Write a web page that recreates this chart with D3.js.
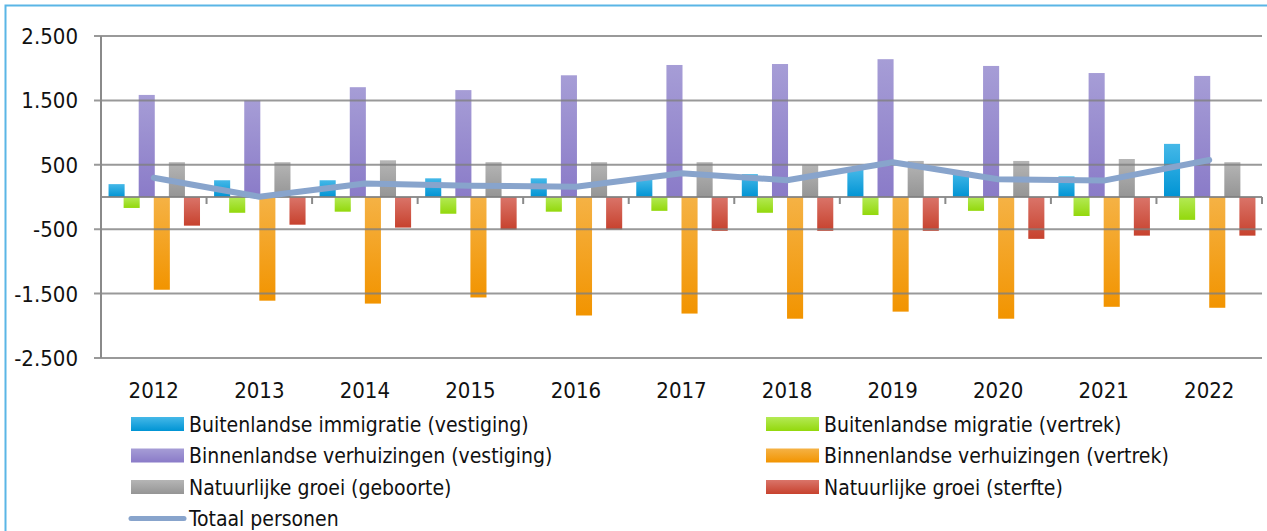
<!DOCTYPE html>
<html>
<head>
<meta charset="utf-8">
<script src="https://cdn.jsdelivr.net/npm/d3@7"></script>
<style>
  body { margin: 0; background: #fff; }
  svg text { font-family: "Liberation Sans Narrow", "DejaVu Sans Condensed", "Roboto Condensed", sans-serif; fill: #111; }
</style>
</head>
<body>
<script>
// data
var years = ["2012","2013","2014","2015","2016","2017","2018","2019","2020","2021","2022"];
var immigratieVestiging = [200, 260, 260, 290, 290, 280, 355, 430, 400, 320, 825];
var migratieVertrek = [-170, -245, -228, -260, -228, -215, -245, -280, -215, -295, -355];
var verhuizingVestiging = [1585, 1500, 1705, 1660, 1890, 2050, 2065, 2140, 2035, 1925, 1880];
var verhuizingVertrek = [-1440, -1610, -1655, -1560, -1840, -1810, -1890, -1780, -1890, -1705, -1720];
var geboorte = [540, 540, 570, 540, 540, 540, 495, 560, 560, 590, 540];
var sterfte = [-445, -430, -475, -505, -505, -525, -525, -525, -650, -600, -600];
var totaal = [300, 5, 210, 175, 160, 370, 260, 540, 275, 255, 575];
var yTicks = [-2500, -1500, -500, 500, 1500, 2500];

var series = [
  {key: "Buitenlandse immigratie (vestiging)", values: immigratieVestiging, c0: "#45b8e8", c1: "#0094d4"},
  {key: "Buitenlandse migratie (vertrek)", values: migratieVertrek, c0: "#b4ea55", c1: "#93d80c"},
  {key: "Binnenlandse verhuizingen (vestiging)", values: verhuizingVestiging, c0: "#a69dd6", c1: "#8a7bc8"},
  {key: "Binnenlandse verhuizingen (vertrek)", values: verhuizingVertrek, c0: "#f5b245", c1: "#f29400"},
  {key: "Natuurlijke groei (geboorte)", values: geboorte, c0: "#b5b5b5", c1: "#959595"},
  {key: "Natuurlijke groei (sterfte)", values: sterfte, c0: "#da7469", c1: "#c7422e"}
];

var width = 1267, height = 531;
var margin = {top: 36, right: 5, bottom: 173, left: 101};

var nl = d3.formatLocale({decimal: ",", thousands: ".", grouping: [3], currency: ["", ""], minus: "-"});
var fmt = nl.format(",");

var x = d3.scaleBand()
    .domain(years)
    .range([margin.left, width - margin.right]);

var xs = d3.scaleBand()
    .domain(series.map(d => d.key))
    .range([0, x.bandwidth()])
    .paddingInner(0)
    .paddingOuter(0.5);

var y = d3.scaleLinear()
    .domain([-2500, 2500])
    .range([height - margin.bottom, margin.top]);

const svg = d3.select("body").append("svg")
    .attr("width", width)
    .attr("height", height);

// gradients
var defs = svg.append("defs");
series.forEach((s, i) => {
  var g = defs.append("linearGradient")
      .attr("id", "grad" + i)
      .attr("x1", 0).attr("y1", 0).attr("x2", 0).attr("y2", 1);
  g.append("stop").attr("offset", "0%").attr("stop-color", s.c0);
  g.append("stop").attr("offset", "100%").attr("stop-color", s.c1);
});

// frame (only left and top visible)
svg.append("path")
    .attr("d", `M5.5,${height + 5}V5.5H${width + 5}`)
    .attr("fill", "none")
    .attr("stroke", "#5ab6e6")
    .attr("stroke-width", 2);

// bars
series.forEach((s, i) => {
  svg.append("g")
      .attr("fill", `url(#grad${i})`)
    .selectAll("rect")
    .data(s.values)
    .enter().append("rect")
      .attr("x", (d, j) => x(years[j]) + xs(s.key))
      .attr("y", d => y(Math.max(0, d)))
      .attr("width", xs.bandwidth() + 1)
      .attr("height", d => Math.abs(y(d) - y(0)));
});

// gridlines (drawn over bars, slightly see-through like the original)
svg.append("g")
    .selectAll("line")
    .data(yTicks)
    .enter().append("line")
      .attr("x1", margin.left - 7)
      .attr("x2", width - margin.right)
      .attr("y1", d => y(d))
      .attr("y2", d => y(d))
      .attr("stroke", "#7f7f7f")
      .attr("stroke-opacity", 0.8)
      .attr("stroke-width", 2);

// zero line with category ticks
svg.append("line")
    .attr("x1", margin.left)
    .attr("x2", width - margin.right)
    .attr("y1", y(0))
    .attr("y2", y(0))
    .attr("stroke", "#7f7f7f")
    .attr("stroke-opacity", 0.85)
    .attr("stroke-width", 2);

svg.append("g")
    .selectAll("line")
    .data(years)
    .enter().append("line")
      .attr("x1", d => x(d) + x.bandwidth())
      .attr("x2", d => x(d) + x.bandwidth())
      .attr("y1", y(0))
      .attr("y2", y(0) + 7)
      .attr("stroke", "#8a8a8a")
      .attr("stroke-width", 2);

// y axis line
svg.append("line")
    .attr("x1", margin.left)
    .attr("x2", margin.left)
    .attr("y1", y(2500))
    .attr("y2", y(-2500))
    .attr("stroke", "#8a8a8a")
    .attr("stroke-width", 2);

// y labels
svg.append("g")
    .selectAll("text")
    .data(yTicks)
    .enter().append("text")
      .attr("x", 78)
      .attr("y", d => y(d))
      .attr("dy", "0.36em")
      .attr("text-anchor", "end")
      .attr("font-size", 22)
      .text(d => fmt(d));

// x labels
svg.append("g")
    .selectAll("text")
    .data(years)
    .enter().append("text")
      .attr("x", d => x(d) + x.bandwidth() / 2)
      .attr("y", 398)
      .attr("text-anchor", "middle")
      .attr("font-size", 22)
      .text(d => d);

// total line
var line = d3.line()
    .x((d, j) => x(years[j]) + x.bandwidth() / 2)
    .y(d => y(d));

svg.append("path")
    .datum(totaal)
    .attr("d", line)
    .attr("fill", "none")
    .attr("stroke", "#88a4cc")
    .attr("stroke-width", 6)
    .attr("stroke-linejoin", "round")
    .attr("stroke-linecap", "round");

// legend
var legendItems = [
  {col: 0, row: 0, s: 0}, {col: 1, row: 0, s: 1},
  {col: 0, row: 1, s: 2}, {col: 1, row: 1, s: 3},
  {col: 0, row: 2, s: 4}, {col: 1, row: 2, s: 5}
];
var legX = [131, 766], legY0 = 424, legStep = 31.5;

var leg = svg.append("g");
legendItems.forEach(it => {
  var lx = legX[it.col], ly = legY0 + it.row * legStep;
  leg.append("rect")
      .attr("x", lx)
      .attr("y", ly - 7)
      .attr("width", 53)
      .attr("height", 14)
      .attr("fill", `url(#grad${it.s})`);
  leg.append("text")
      .attr("x", lx + 58)
      .attr("y", ly)
      .attr("dy", "0.36em")
      .attr("font-size", 21)
      .text(series[it.s].key);
});

var ly4 = legY0 + 3 * legStep;
leg.append("line")
    .attr("x1", 131)
    .attr("x2", 184)
    .attr("y1", ly4)
    .attr("y2", ly4)
    .attr("stroke", "#88a4cc")
    .attr("stroke-width", 5)
    .attr("stroke-linecap", "round");
leg.append("text")
    .attr("x", 189)
    .attr("y", ly4)
    .attr("dy", "0.36em")
    .attr("font-size", 21)
    .text("Totaal personen");
</script>
</body>
</html>
